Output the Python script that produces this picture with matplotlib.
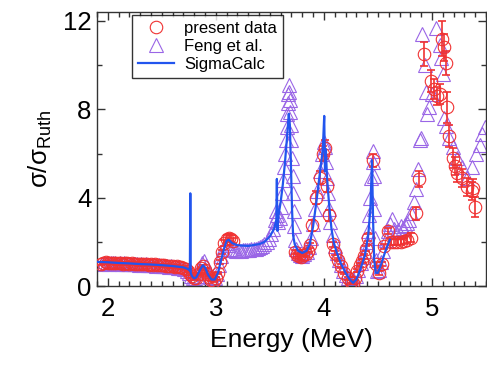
import matplotlib
matplotlib.use("Agg")
import matplotlib.pyplot as plt
from matplotlib.ticker import MultipleLocator

plt.rcParams["font.family"] = ["Liberation Sans", "DejaVu Sans"]
plt.rcParams["mathtext.fontset"] = "custom"
plt.rcParams["mathtext.rm"] = "Liberation Sans"
plt.rcParams["mathtext.it"] = "Liberation Sans:italic"

COLOR_PRESENT = "#f03232"
COLOR_FENG = "#9a66e6"
COLOR_CALC = "#2255ee"

# present data: energy (MeV), sigma/sigma_Ruth, error
present_e = [
    1.94, 1.96, 1.98, 2.00, 2.02, 2.04, 2.06, 2.08, 2.10, 2.12, 2.14, 2.16, 2.18, 2.20,
    2.22, 2.24, 2.26, 2.28, 2.30, 2.32, 2.34, 2.36, 2.38, 2.40, 2.42, 2.44, 2.46, 2.48,
    2.50, 2.52, 2.54, 2.56, 2.58, 2.60, 2.62, 2.64, 2.66, 2.68, 2.70, 2.72, 2.74, 2.76,
    2.78, 2.80, 2.82, 2.84, 2.86, 2.88, 2.90, 2.92, 2.94, 2.96, 2.98, 3.00, 3.02, 3.04,
    3.06, 3.08, 3.10, 3.12, 3.14, 3.16,
    3.73, 3.75, 3.77, 3.79, 3.81, 3.83, 3.85, 3.87, 3.89, 3.93, 3.96, 3.99, 4.01, 4.03,
    4.05, 4.08, 4.10, 4.13, 4.16, 4.19, 4.22, 4.25, 4.27, 4.29, 4.31, 4.33, 4.35, 4.37,
    4.39, 4.41, 4.45, 4.48, 4.51, 4.54, 4.56, 4.59, 4.62, 4.65, 4.68, 4.71, 4.74, 4.77,
    4.81, 4.85, 4.88,
    4.93, 4.99, 5.02, 5.05, 5.07, 5.09, 5.11, 5.13, 5.14, 5.16, 5.19, 5.21, 5.23, 5.28,
    5.32, 5.37, 5.38, 5.40,
]
present_v = [
    1.02, 1.05, 1.08, 1.06, 1.04, 1.07, 1.05, 1.03, 1.06, 1.04, 1.02, 1.05, 1.03, 1.01,
    1.04, 1.02, 1.00, 1.02, 0.99, 1.01, 0.98, 1.00, 0.97, 0.99, 0.96, 0.98, 0.95, 0.96,
    0.94, 0.95, 0.92, 0.93, 0.90, 0.91, 0.88, 0.89, 0.86, 0.85, 0.82, 0.78, 0.70, 0.55,
    0.45, 0.35, 0.38, 0.55, 0.80, 0.90, 0.75, 0.55, 0.40, 0.30, 0.25, 0.35, 0.60, 1.10,
    1.55, 1.95, 2.15, 2.20, 2.15, 2.05,
    1.55, 1.40, 1.35, 1.30, 1.40, 1.45, 1.60, 1.85, 2.75, 4.00, 4.90, 6.00, 6.25, 4.55,
    3.20, 1.90, 1.50, 1.20, 0.90, 0.60, 0.35, 0.20, 0.15, 0.35, 0.70, 0.95, 1.15, 1.35,
    1.70, 2.20, 5.70, 1.00, 0.60, 1.00, 1.80, 2.50, 2.00, 2.00, 2.00, 2.00, 2.05, 2.10,
    2.20, 3.30, 4.85,
    10.5, 9.30, 8.90, 8.60, 8.70, 11.2, 10.8, 10.1, 8.10, 6.80, 5.80, 5.45, 5.10, 4.90,
    4.50, 4.30, 4.45, 3.60,
]
present_err = [
    0.06, 0.06, 0.06, 0.06, 0.06, 0.06, 0.06, 0.06, 0.06, 0.06, 0.06, 0.06, 0.06, 0.06,
    0.06, 0.06, 0.06, 0.06, 0.06, 0.06, 0.06, 0.06, 0.06, 0.06, 0.06, 0.06, 0.06, 0.06,
    0.06, 0.06, 0.06, 0.06, 0.06, 0.06, 0.06, 0.06, 0.06, 0.06, 0.06, 0.06, 0.06, 0.06,
    0.06, 0.06, 0.06, 0.06, 0.06, 0.06, 0.06, 0.06, 0.06, 0.06, 0.06, 0.06, 0.06, 0.08,
    0.10, 0.12, 0.15, 0.15, 0.15, 0.12,
    0.10, 0.10, 0.10, 0.10, 0.10, 0.10, 0.10, 0.12, 0.25, 0.30, 0.30, 0.35, 0.35, 0.30,
    0.25, 0.12, 0.10, 0.08, 0.08, 0.06, 0.06, 0.06, 0.06, 0.06, 0.06, 0.08, 0.08, 0.10,
    0.12, 0.15, 0.30, 0.10, 0.08, 0.10, 0.12, 0.15, 0.15, 0.15, 0.15, 0.15, 0.15, 0.15,
    0.20, 0.30, 0.35,
    0.55, 0.50, 0.45, 0.40, 0.45, 0.80, 0.60, 0.55, 0.70, 0.50, 0.45, 0.40, 0.40, 0.40,
    0.40, 0.40, 0.40, 0.45,
]

# Feng et al.
feng_e = [
    1.95, 1.97, 1.99, 2.01, 2.03, 2.05, 2.07, 2.09, 2.11, 2.13, 2.15, 2.17, 2.19, 2.21,
    2.23, 2.25, 2.27, 2.29, 2.31, 2.33, 2.35, 2.37, 2.39, 2.41, 2.43, 2.45, 2.47, 2.49,
    2.51, 2.53, 2.55, 2.57, 2.59, 2.61, 2.63, 2.65, 2.67, 2.69, 2.71, 2.73, 2.75, 2.77,
    2.79, 2.81, 2.83, 2.85, 2.87, 2.89, 2.91, 2.93, 2.95, 2.97, 2.99, 3.01, 3.03, 3.05,
    3.07, 3.09, 3.11, 3.13, 3.15, 3.17, 3.19, 3.21, 3.23, 3.25, 3.27, 3.29, 3.31, 3.33,
    3.35, 3.37, 3.39, 3.41, 3.43, 3.45, 3.47, 3.49, 3.51, 3.53, 3.55, 3.56, 3.57, 3.58,
    3.59, 3.60, 3.61, 3.62, 3.63, 3.64, 3.65, 3.655, 3.66, 3.665, 3.67, 3.675, 3.68,
    3.685, 3.69, 3.695, 3.70, 3.705, 3.71, 3.715, 3.72, 3.725, 3.73, 3.74, 3.76, 3.78,
    3.80, 3.82, 3.84, 3.86, 3.88, 3.90, 3.92, 3.94, 3.96, 3.98, 4.00, 4.01, 4.02, 4.03,
    4.04, 4.05, 4.06, 4.08, 4.10, 4.12, 4.14, 4.16, 4.18, 4.20, 4.22, 4.24, 4.26, 4.28,
    4.30, 4.32, 4.34, 4.36, 4.38, 4.40, 4.41, 4.42, 4.43, 4.44, 4.45, 4.455, 4.46,
    4.465, 4.47, 4.48, 4.49, 4.51, 4.53, 4.55, 4.57, 4.59, 4.61, 4.63, 4.65, 4.67, 4.69,
    4.71, 4.73, 4.75, 4.77, 4.79, 4.81, 4.83, 4.85, 4.87, 4.89, 4.90,
    4.91, 4.94, 4.945, 4.95, 4.97, 5.00, 5.04, 5.07, 5.085, 5.10, 5.11, 5.13, 5.16,
    5.19, 5.23, 5.28, 5.32, 5.37, 5.41, 5.44, 5.46, 5.49,
]
feng_v = [
    1.00, 1.03, 1.05, 1.02, 1.05, 1.03, 1.06, 1.02, 1.04, 1.01, 1.03, 1.00, 1.02, 0.99,
    1.01, 0.98, 1.00, 0.97, 0.99, 0.96, 0.98, 0.95, 0.97, 0.94, 0.96, 0.93, 0.94, 0.91,
    0.93, 0.90, 0.91, 0.88, 0.89, 0.86, 0.87, 0.84, 0.82, 0.80, 0.76, 0.70, 0.60, 0.48,
    0.38, 0.35, 0.48, 0.75, 1.05, 1.15, 0.90, 0.60, 0.40, 0.30, 0.35, 0.55, 0.95, 1.35,
    1.70, 1.95, 1.85, 1.70, 1.65, 1.62, 1.60, 1.62, 1.60, 1.62, 1.64, 1.62, 1.65, 1.67,
    1.68, 1.70, 1.72, 1.78, 1.82, 1.90, 2.00, 2.15, 2.35, 2.60, 3.00, 3.40, 3.20, 2.90,
    3.10, 3.60, 4.20, 4.80, 5.40, 6.00, 6.60, 7.20, 7.80, 8.30, 8.70, 9.10, 8.80,
    8.40, 7.90, 7.30, 6.60, 5.80, 5.00, 4.20, 3.40, 2.70, 2.10, 1.70, 1.50, 1.40,
    1.35, 1.45, 1.55, 1.75, 2.20, 2.80, 3.50, 4.30, 5.20, 6.00, 6.50, 6.30, 5.60, 4.90,
    4.20, 3.50, 2.90, 2.30, 1.80, 1.50, 1.20, 0.95, 0.70, 0.50, 0.35, 0.25, 0.20, 0.25,
    0.45, 0.75, 1.05, 1.30, 1.60, 2.00, 2.50, 3.20, 4.00, 4.90, 5.60, 6.10, 5.00,
    3.50, 2.20, 1.20, 0.70, 0.75, 1.10, 1.60, 2.10, 2.50, 2.80, 3.05, 2.60, 2.45, 2.55,
    2.70, 2.65, 2.75, 2.85, 3.00, 3.30, 3.80, 4.40, 5.30, 6.60, 6.70,
    11.4, 10.0, 8.80, 7.80, 8.10, 8.70, 11.7, 10.9, 10.3, 9.60, 7.60, 7.25, 6.70,
    6.30, 5.80, 5.40, 4.90, 5.40, 6.00, 6.40, 6.90, 7.20,
]

# SigmaCalc evaluation
calc_e = [
    1.90, 2.00, 2.10, 2.20, 2.30, 2.40, 2.50, 2.60, 2.70, 2.74, 2.760, 2.764, 2.768,
    2.78, 2.80, 2.82, 2.85, 2.88, 2.90, 2.93, 2.96, 2.99, 3.02, 3.05, 3.08, 3.10, 3.12,
    3.15, 3.20, 3.30, 3.40, 3.45, 3.50, 3.54, 3.560, 3.565, 3.570, 3.58, 3.60, 3.62,
    3.64, 3.66, 3.675, 3.685, 3.695, 3.705, 3.715, 3.73, 3.76, 3.80, 3.84, 3.87, 3.90,
    3.93, 3.96, 3.99, 4.003, 4.010, 4.018, 4.028, 4.04, 4.05, 4.07, 4.09, 4.12, 4.16,
    4.20, 4.24, 4.27, 4.30, 4.34, 4.38, 4.41, 4.43, 4.445, 4.455, 4.465, 4.48, 4.50,
    4.53, 4.57, 4.61,
]
calc_v = [
    1.10, 1.08, 1.05, 1.03, 1.00, 0.98, 0.95, 0.91, 0.85, 0.78, 0.70, 4.20, 0.60,
    0.45, 0.35, 0.40, 0.70, 0.95, 0.85, 0.50, 0.30, 0.30, 0.60, 1.20, 1.75, 2.05, 2.10,
    1.95, 1.85, 1.82, 1.90, 2.00, 2.25, 2.60, 3.00, 4.85, 2.50, 3.20, 3.80, 4.60,
    5.60, 6.80, 7.80, 7.30, 5.50, 3.50, 2.30, 1.90, 1.60, 1.50, 1.60, 1.90, 2.70,
    3.80, 5.00, 6.20, 7.70, 5.20, 6.20, 5.00, 4.20, 3.60, 2.60, 2.00, 1.50, 1.00,
    0.60, 0.30, 0.15, 0.30, 0.80, 1.40, 2.30, 3.50, 5.70, 3.00, 1.20, 0.60, 0.60,
    1.00, 1.60, 2.10,
]

fig = plt.figure(figsize=(4.87, 3.65), dpi=100)
ax = fig.add_axes([0.199, 0.216, 0.799, 0.751])

ax.plot(feng_e, feng_v, linestyle="none", marker="^", markersize=10,
        markerfacecolor="none", markeredgecolor=COLOR_FENG, markeredgewidth=0.8,
        label="Feng et al.", zorder=2)
ax.errorbar(present_e, present_v, yerr=present_err, fmt="none", ecolor=COLOR_PRESENT,
            elinewidth=1.2, capsize=3, capthick=1.2, zorder=3)
ax.plot(present_e, present_v, linestyle="none", marker="o", markersize=9,
        markerfacecolor="none", markeredgecolor=COLOR_PRESENT, markeredgewidth=0.8,
        label="present data", zorder=3)
ax.plot(calc_e, calc_v, color=COLOR_CALC, linewidth=1.6, label="SigmaCalc", zorder=4)

ax.set_xlim(1.9, 5.5)
ax.set_ylim(0, 12.4)
ax.xaxis.set_major_locator(MultipleLocator(1))
ax.xaxis.set_minor_locator(MultipleLocator(0.1))
ax.yaxis.set_major_locator(MultipleLocator(4))
ax.yaxis.set_minor_locator(MultipleLocator(2))
ax.tick_params(which="both", direction="in", top=True, right=True, labelsize=18.5,
               color="#333333")
ax.tick_params(which="major", length=6, width=1)
ax.tick_params(which="minor", length=3.5, width=1)
ax.tick_params(axis="x", pad=8)
ax.tick_params(axis="y", pad=4)
for sp in ax.spines.values():
    sp.set_color("#333333")
    sp.set_linewidth(1)

ax.set_xlabel("Energy (MeV)", fontsize=19, labelpad=5)
ax.set_ylabel(r"σ/σ$_{\rm Ruth}$", fontsize=18.5, labelpad=6)

handles, labels = ax.get_legend_handles_labels()
order = [labels.index("present data"), labels.index("Feng et al."), labels.index("SigmaCalc")]
leg = ax.legend([handles[i] for i in order], [labels[i] for i in order],
                loc="upper left", bbox_to_anchor=(0.09, 0.99), borderaxespad=0,
                fontsize=12, frameon=True, fancybox=False, edgecolor="black",
                handlelength=2.2, handletextpad=0.6, labelspacing=0.2,
                borderpad=0.35)
leg.get_frame().set_linewidth(1)

fig.savefig("out.png", dpi=100)
